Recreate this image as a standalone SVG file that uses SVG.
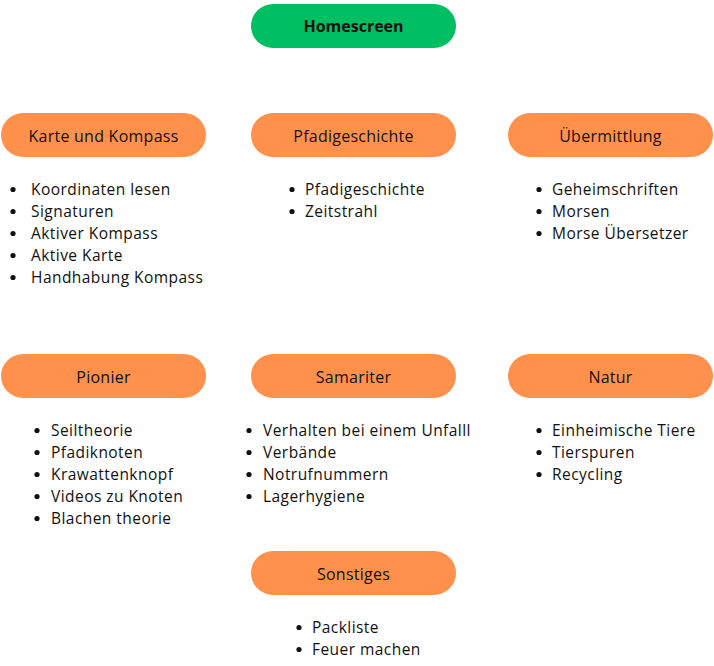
<svg xmlns="http://www.w3.org/2000/svg" width="714" height="666" viewBox="0 0 714 666">
<style>
.pill{fill:#FF914D}
.home{fill:#00BF63}
.lbl{font-family:"Open Sans","Noto Sans",sans-serif;font-size:16px;letter-spacing:0.25px;fill:#111;text-anchor:middle}
.b{font-weight:bold;letter-spacing:0}
.li{font-family:"Open Sans","Noto Sans",sans-serif;font-size:15.5px;letter-spacing:0.45px;fill:#111}
.dot{fill:#111}
</style>
<rect width="714" height="666" fill="#fff"/>
<g id="homescreen"><rect class="home" x="251" y="4" width="205" height="44" rx="22"/><text class="lbl b" x="353.5" y="31.5">Homescreen</text></g>
<g id="karte"><rect class="pill" x="1" y="113" width="205" height="44" rx="22"/><text class="lbl" x="103.5" y="142">Karte und Kompass</text>
<g class="li"><circle class="dot" cx="13" cy="189.5" r="2.6"/><text x="31" y="195">Koordinaten lesen</text>
<circle class="dot" cx="13" cy="211.5" r="2.6"/><text x="31" y="217">Signaturen</text>
<circle class="dot" cx="13" cy="233.5" r="2.6"/><text x="31" y="239">Aktiver Kompass</text>
<circle class="dot" cx="13" cy="255.5" r="2.6"/><text x="31" y="261">Aktive Karte</text>
<circle class="dot" cx="13" cy="277.5" r="2.6"/><text x="31" y="283">Handhabung Kompass</text></g></g>
<g id="pfadi"><rect class="pill" x="251" y="113" width="205" height="44" rx="22"/><text class="lbl" x="353.5" y="142">Pfadigeschichte</text>
<g class="li"><circle class="dot" cx="292" cy="189.5" r="2.6"/><text x="305" y="195">Pfadigeschichte</text>
<circle class="dot" cx="292" cy="211.5" r="2.6"/><text x="305" y="217">Zeitstrahl</text></g></g>
<g id="uebermittlung"><rect class="pill" x="508" y="113" width="205" height="44" rx="22"/><text class="lbl" x="610.5" y="142">Übermittlung</text>
<g class="li"><circle class="dot" cx="539" cy="189.5" r="2.6"/><text x="552" y="195">Geheimschriften</text>
<circle class="dot" cx="539" cy="211.5" r="2.6"/><text x="552" y="217">Morsen</text>
<circle class="dot" cx="539" cy="233.5" r="2.6"/><text x="552" y="239">Morse Übersetzer</text></g></g>
<g id="pionier"><rect class="pill" x="1" y="354" width="205" height="44" rx="22"/><text class="lbl" x="103.5" y="383">Pionier</text>
<g class="li"><circle class="dot" cx="37" cy="430.5" r="2.6"/><text x="51" y="436">Seiltheorie</text>
<circle class="dot" cx="37" cy="452.5" r="2.6"/><text x="51" y="458">Pfadiknoten</text>
<circle class="dot" cx="37" cy="474.5" r="2.6"/><text x="51" y="480">Krawattenknopf</text>
<circle class="dot" cx="37" cy="496.5" r="2.6"/><text x="51" y="502">Videos zu Knoten</text>
<circle class="dot" cx="37" cy="518.5" r="2.6"/><text x="51" y="524">Blachen theorie</text></g></g>
<g id="samariter"><rect class="pill" x="251" y="354" width="205" height="44" rx="22"/><text class="lbl" x="353.5" y="383">Samariter</text>
<g class="li"><circle class="dot" cx="249" cy="430.5" r="2.6"/><text x="263" y="436">Verhalten bei einem Unfalll</text>
<circle class="dot" cx="249" cy="452.5" r="2.6"/><text x="263" y="458">Verbände</text>
<circle class="dot" cx="249" cy="474.5" r="2.6"/><text x="263" y="480">Notrufnummern</text>
<circle class="dot" cx="249" cy="496.5" r="2.6"/><text x="263" y="502">Lagerhygiene</text></g></g>
<g id="natur"><rect class="pill" x="508" y="354" width="205" height="44" rx="22"/><text class="lbl" x="610.5" y="383">Natur</text>
<g class="li"><circle class="dot" cx="539" cy="430.5" r="2.6"/><text x="552" y="436">Einheimische Tiere</text>
<circle class="dot" cx="539" cy="452.5" r="2.6"/><text x="552" y="458">Tierspuren</text>
<circle class="dot" cx="539" cy="474.5" r="2.6"/><text x="552" y="480">Recycling</text></g></g>
<g id="sonstiges"><rect class="pill" x="251" y="551" width="205" height="44" rx="22"/><text class="lbl" x="353.5" y="580">Sonstiges</text>
<g class="li"><circle class="dot" cx="299" cy="627.5" r="2.6"/><text x="312" y="633">Packliste</text>
<circle class="dot" cx="299" cy="649.5" r="2.6"/><text x="312" y="655">Feuer machen</text></g></g>
<g id="connectors"></g>
</svg>
